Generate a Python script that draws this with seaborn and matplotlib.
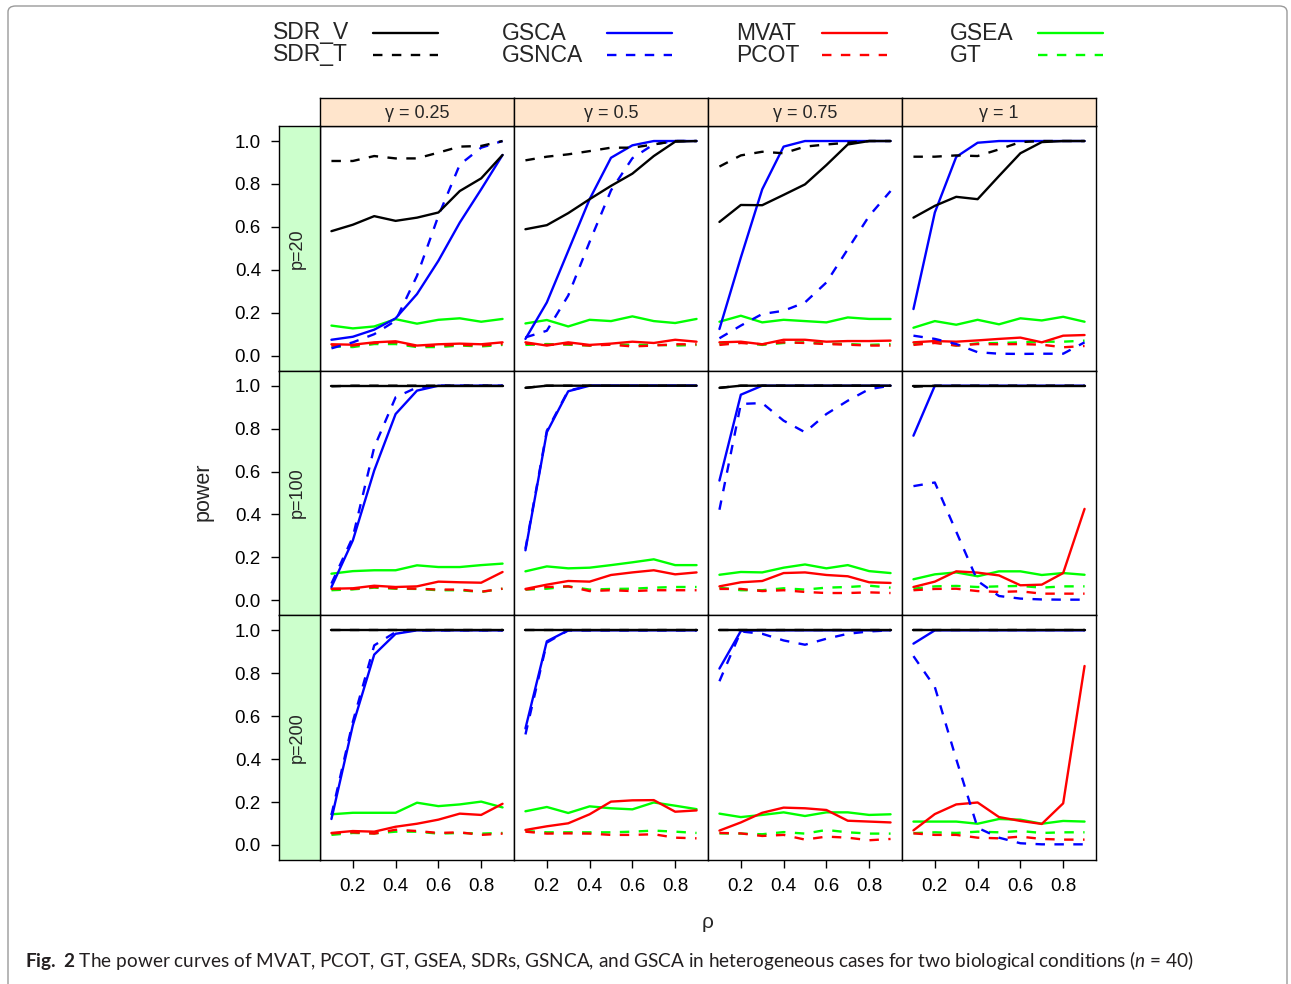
import numpy as np
import pandas as pd
import seaborn as sns
import matplotlib
matplotlib.use("Agg")
import matplotlib.pyplot as plt
from matplotlib.lines import Line2D
from matplotlib.patches import FancyBboxPatch

# ---------------- data ----------------
rho = [0.1, 0.2, 0.3, 0.4, 0.5, 0.6, 0.7, 0.8, 0.9]
gamma_labels = ["γ = 0.25", "γ = 0.5", "γ = 0.75", "γ = 1"]
p_labels = ["p=20", "p=100", "p=200"]
methods = ["SDR_V", "SDR_T", "GSCA", "GSNCA", "MVAT", "PCOT", "GSEA", "GT"]

ONE = [1.0] * 9

p20_g025 = dict(
    SDR_V=[0.58, 0.61, 0.65, 0.628, 0.643, 0.667, 0.767, 0.826, 0.935],
    SDR_T=[0.907, 0.907, 0.930, 0.919, 0.919, 0.946, 0.974, 0.977, 1.0],
    GSCA=[0.074, 0.088, 0.121, 0.174, 0.287, 0.442, 0.62, 0.775, 0.935],
    GSNCA=[0.034, 0.062, 0.10, 0.163, 0.372, 0.651, 0.89, 0.969, 1.0],
    MVAT=[0.053, 0.051, 0.062, 0.067, 0.047, 0.053, 0.056, 0.053, 0.062],
    PCOT=[0.047, 0.047, 0.059, 0.062, 0.043, 0.047, 0.050, 0.047, 0.054],
    GSEA=[0.14, 0.127, 0.136, 0.17, 0.149, 0.167, 0.174, 0.158, 0.171],
    GT=[0.043, 0.040, 0.054, 0.054, 0.040, 0.040, 0.047, 0.043, 0.050],
)
p20_g05 = dict(
    SDR_V=[0.589, 0.608, 0.664, 0.729, 0.791, 0.848, 0.93, 0.997, 1.0],
    SDR_T=[0.91, 0.927, 0.938, 0.953, 0.969, 0.969, 0.984, 1.0, 1.0],
    GSCA=[0.078, 0.248, 0.488, 0.729, 0.922, 0.98, 1.0, 1.0, 1.0],
    GSNCA=[0.085, 0.116, 0.28, 0.53, 0.77, 0.92, 0.985, 1.0, 1.0],
    MVAT=[0.062, 0.047, 0.062, 0.050, 0.056, 0.065, 0.059, 0.074, 0.065],
    PCOT=[0.056, 0.050, 0.054, 0.047, 0.051, 0.043, 0.047, 0.053, 0.053],
    GSEA=[0.15, 0.166, 0.136, 0.167, 0.161, 0.183, 0.161, 0.152, 0.171],
    GT=[0.050, 0.054, 0.051, 0.047, 0.053, 0.050, 0.051, 0.047, 0.050],
)
p20_g075 = dict(
    SDR_V=[0.623, 0.702, 0.701, 0.749, 0.798, 0.888, 0.984, 1.0, 1.0],
    SDR_T=[0.881, 0.933, 0.95, 0.943, 0.974, 0.984, 0.992, 1.0, 1.0],
    GSCA=[0.124, 0.457, 0.775, 0.974, 1.0, 1.0, 1.0, 1.0, 1.0],
    GSNCA=[0.081, 0.14, 0.194, 0.209, 0.248, 0.341, 0.496, 0.651, 0.767],
    MVAT=[0.062, 0.065, 0.053, 0.074, 0.074, 0.065, 0.068, 0.068, 0.070],
    PCOT=[0.050, 0.059, 0.053, 0.062, 0.059, 0.054, 0.051, 0.047, 0.047],
    GSEA=[0.158, 0.186, 0.155, 0.167, 0.161, 0.155, 0.178, 0.171, 0.171],
    GT=[0.054, 0.062, 0.050, 0.059, 0.062, 0.056, 0.054, 0.050, 0.054],
)
p20_g1 = dict(
    SDR_V=[0.643, 0.698, 0.74, 0.729, 0.837, 0.943, 0.995, 1.0, 1.0],
    SDR_T=[0.927, 0.927, 0.933, 0.93, 0.961, 0.995, 1.0, 1.0, 1.0],
    GSCA=[0.217, 0.667, 0.926, 0.992, 1.0, 1.0, 1.0, 1.0, 1.0],
    GSNCA=[0.093, 0.078, 0.054, 0.016, 0.009, 0.008, 0.009, 0.009, 0.062],
    MVAT=[0.062, 0.068, 0.065, 0.071, 0.078, 0.084, 0.062, 0.093, 0.096],
    PCOT=[0.050, 0.059, 0.047, 0.054, 0.053, 0.054, 0.051, 0.039, 0.045],
    GSEA=[0.13, 0.161, 0.144, 0.167, 0.146, 0.174, 0.164, 0.181, 0.158],
    GT=[0.054, 0.062, 0.047, 0.057, 0.059, 0.062, 0.065, 0.065, 0.070],
)
p100_g025 = dict(
    SDR_V=ONE,
    SDR_T=[0.997, 1.0, 1.0, 1.0, 1.0, 1.0, 1.0, 1.0, 1.0],
    GSCA=[0.062, 0.279, 0.605, 0.868, 0.977, 1.0, 1.0, 1.0, 1.0],
    GSNCA=[0.078, 0.295, 0.713, 0.946, 0.992, 1.0, 1.0, 1.0, 1.0],
    MVAT=[0.054, 0.056, 0.068, 0.062, 0.065, 0.087, 0.084, 0.082, 0.132],
    PCOT=[0.053, 0.053, 0.062, 0.056, 0.054, 0.050, 0.050, 0.040, 0.054],
    GSEA=[0.124, 0.136, 0.14, 0.14, 0.163, 0.155, 0.155, 0.164, 0.171],
    GT=[0.047, 0.051, 0.059, 0.054, 0.053, 0.047, 0.047, 0.039, 0.054],
)
p100_g05 = dict(
    SDR_V=[0.99, 1.0, 1.0, 1.0, 1.0, 1.0, 1.0, 1.0, 1.0],
    SDR_T=[0.99, 1.0, 1.0, 1.0, 1.0, 1.0, 1.0, 1.0, 1.0],
    GSCA=[0.233, 0.783, 0.974, 1.0, 1.0, 1.0, 1.0, 1.0, 1.0],
    GSNCA=[0.24, 0.79, 0.977, 1.0, 1.0, 1.0, 1.0, 1.0, 1.0],
    MVAT=[0.053, 0.073, 0.09, 0.087, 0.118, 0.13, 0.14, 0.121, 0.13],
    PCOT=[0.050, 0.062, 0.065, 0.043, 0.047, 0.043, 0.047, 0.047, 0.047],
    GSEA=[0.135, 0.158, 0.149, 0.152, 0.164, 0.177, 0.191, 0.164, 0.164],
    GT=[0.050, 0.054, 0.065, 0.050, 0.053, 0.054, 0.059, 0.062, 0.062],
)
p100_g075 = dict(
    SDR_V=[0.99, 1.0, 1.0, 1.0, 1.0, 1.0, 1.0, 1.0, 1.0],
    SDR_T=[0.99, 1.0, 1.0, 1.0, 1.0, 1.0, 1.0, 1.0, 1.0],
    GSCA=[0.558, 0.958, 1.0, 1.0, 1.0, 1.0, 1.0, 1.0, 1.0],
    GSNCA=[0.422, 0.915, 0.919, 0.837, 0.783, 0.868, 0.93, 0.984, 1.0],
    MVAT=[0.065, 0.084, 0.09, 0.127, 0.13, 0.118, 0.112, 0.084, 0.081],
    PCOT=[0.053, 0.053, 0.043, 0.047, 0.039, 0.034, 0.034, 0.037, 0.034],
    GSEA=[0.119, 0.132, 0.13, 0.152, 0.167, 0.149, 0.164, 0.136, 0.127],
    GT=[0.059, 0.047, 0.047, 0.056, 0.050, 0.059, 0.062, 0.068, 0.059],
)
p100_g1 = dict(
    SDR_V=ONE,
    SDR_T=[0.995, 1.0, 1.0, 1.0, 1.0, 1.0, 1.0, 1.0, 1.0],
    GSCA=[0.767, 1.0, 1.0, 1.0, 1.0, 1.0, 1.0, 1.0, 1.0],
    GSNCA=[0.532, 0.549, 0.32, 0.09, 0.02, 0.008, 0.004, 0.003, 0.003],
    MVAT=[0.062, 0.087, 0.135, 0.129, 0.116, 0.070, 0.073, 0.127, 0.426],
    PCOT=[0.047, 0.053, 0.054, 0.043, 0.039, 0.042, 0.031, 0.031, 0.031],
    GSEA=[0.098, 0.121, 0.13, 0.112, 0.135, 0.135, 0.118, 0.127, 0.119],
    GT=[0.054, 0.065, 0.067, 0.062, 0.065, 0.067, 0.059, 0.065, 0.065],
)
p200_g025 = dict(
    SDR_V=ONE,
    SDR_T=ONE,
    GSCA=[0.121, 0.558, 0.887, 0.984, 1.0, 1.0, 1.0, 1.0, 1.0],
    GSNCA=[0.14, 0.574, 0.93, 0.992, 1.0, 1.0, 1.0, 1.0, 1.0],
    MVAT=[0.056, 0.065, 0.062, 0.085, 0.099, 0.118, 0.146, 0.14, 0.192],
    PCOT=[0.054, 0.059, 0.053, 0.071, 0.065, 0.056, 0.059, 0.047, 0.053],
    GSEA=[0.143, 0.15, 0.15, 0.15, 0.197, 0.181, 0.189, 0.202, 0.175],
    GT=[0.047, 0.056, 0.054, 0.062, 0.062, 0.053, 0.056, 0.053, 0.056],
)
p200_g05 = dict(
    SDR_V=ONE,
    SDR_T=ONE,
    GSCA=[0.543, 0.949, 1.0, 1.0, 1.0, 1.0, 1.0, 1.0, 1.0],
    GSNCA=[0.515, 0.943, 1.0, 1.0, 1.0, 1.0, 1.0, 1.0, 1.0],
    MVAT=[0.07, 0.087, 0.101, 0.143, 0.202, 0.208, 0.209, 0.155, 0.161],
    PCOT=[0.062, 0.053, 0.054, 0.053, 0.047, 0.047, 0.050, 0.034, 0.031],
    GSEA=[0.157, 0.177, 0.149, 0.18, 0.171, 0.166, 0.198, 0.183, 0.167],
    GT=[0.065, 0.059, 0.059, 0.059, 0.059, 0.062, 0.067, 0.062, 0.056],
)
p200_g075 = dict(
    SDR_V=ONE,
    SDR_T=ONE,
    GSCA=[0.822, 0.997, 1.0, 1.0, 1.0, 1.0, 1.0, 1.0, 1.0],
    GSNCA=[0.763, 0.995, 0.984, 0.953, 0.933, 0.961, 0.984, 0.995, 1.0],
    MVAT=[0.067, 0.105, 0.15, 0.174, 0.171, 0.163, 0.113, 0.109, 0.105],
    PCOT=[0.056, 0.054, 0.042, 0.047, 0.025, 0.039, 0.034, 0.022, 0.028],
    GSEA=[0.146, 0.13, 0.14, 0.152, 0.135, 0.152, 0.152, 0.14, 0.143],
    GT=[0.054, 0.053, 0.050, 0.060, 0.053, 0.070, 0.059, 0.053, 0.053],
)
p200_g1 = dict(
    SDR_V=ONE,
    SDR_T=ONE,
    GSCA=[0.938, 1.0, 1.0, 1.0, 1.0, 1.0, 1.0, 1.0, 1.0],
    GSNCA=[0.88, 0.736, 0.40, 0.08, 0.034, 0.008, 0.003, 0.003, 0.003],
    MVAT=[0.068, 0.144, 0.189, 0.198, 0.13, 0.112, 0.098, 0.194, 0.834],
    PCOT=[0.054, 0.047, 0.047, 0.034, 0.031, 0.039, 0.028, 0.025, 0.025],
    GSEA=[0.109, 0.109, 0.109, 0.099, 0.121, 0.118, 0.099, 0.112, 0.109],
    GT=[0.055, 0.059, 0.056, 0.062, 0.059, 0.065, 0.056, 0.059, 0.059],
)

panels = [
    [p20_g025, p20_g05, p20_g075, p20_g1],
    [p100_g025, p100_g05, p100_g075, p100_g1],
    [p200_g025, p200_g05, p200_g075, p200_g1],
]

# ---------------- styles ----------------
palette = {"SDR_V": "black", "SDR_T": "black", "GSCA": "#0000FF", "GSNCA": "#0000FF",
           "MVAT": "#FF0000", "PCOT": "#FF0000", "GSEA": "#00FF00", "GT": "#00FF00"}
dash_map = {"SDR_V": "", "SDR_T": (4, 4), "GSCA": "", "GSNCA": (4, 4),
            "MVAT": "", "PCOT": (4, 4), "GSEA": "", "GT": (4, 4)}
draw_order = ["GT", "GSEA", "PCOT", "MVAT", "GSNCA", "GSCA", "SDR_T", "SDR_V"]

sns.set_theme(style="white")
FONT = ["Liberation Sans", "DejaVu Sans"]
plt.rcParams["font.family"] = FONT
plt.rcParams["mathtext.fontset"] = "custom"
plt.rcParams["mathtext.rm"] = "Lato"
plt.rcParams["mathtext.it"] = "Lato:italic"
plt.rcParams["mathtext.bf"] = "Lato:bold"

W, H = 1291, 984
fig = plt.figure(figsize=(W / 100, H / 100), dpi=100)


def ax_at(x0, y0, w, h, **kw):
    return fig.add_axes([x0 / W, 1 - (y0 + h) / H, w / W, h / H], **kw)


# outer rounded border
fig.add_artist(FancyBboxPatch((8 / W, -0.05), (1279) / W, 1 - 6 / H + 0.05,
                              boxstyle="round,pad=0,rounding_size=0.006",
                              transform=fig.transFigure, fill=False,
                              edgecolor="#9a9a9a", linewidth=1.0))

PX0, PY0 = 320, 126
PW, PH = 194, 734 / 3
XLIM = (0.0465, 0.9535)
YLIM = (-0.07, 1.07)
LW = 1.7
TICKFS = 13.5

for i in range(3):
    for j in range(4):
        x0 = PX0 + j * PW
        y0 = PY0 + i * PH
        ax = ax_at(x0, y0, PW, PH)
        d = panels[i][j]
        df = pd.DataFrame({
            "rho": np.tile(rho, len(draw_order)),
            "power": np.concatenate([d[m] for m in draw_order]),
            "method": np.repeat(draw_order, len(rho)),
        })
        sns.lineplot(data=df, x="rho", y="power", hue="method", style="method",
                     hue_order=draw_order, style_order=draw_order,
                     palette=palette, dashes=dash_map, linewidth=LW,
                     legend=False, ax=ax, sort=False)
        ax.set_xlim(*XLIM)
        ax.set_ylim(*YLIM)
        ax.set_xlabel("")
        ax.set_ylabel("")
        for s in ax.spines.values():
            s.set_color("black")
            s.set_linewidth(1.0)
        ax.set_yticks([])
        if i == 2:
            ax.set_xticks([0.2, 0.4, 0.6, 0.8])
            ax.set_xticklabels(["0.2", "0.4", "0.6", "0.8"])
            ax.tick_params(axis="x", bottom=True, direction="out", length=6,
                           width=1, pad=7, labelsize=TICKFS, colors="black")
        else:
            ax.set_xticks([])

        # top strip (gamma)
        if i == 0:
            sax = ax_at(x0, 98, PW, 28)
            sax.set_facecolor("#FFE5CC")
            sax.set_xticks([]); sax.set_yticks([])
            for s in sax.spines.values():
                s.set_color("black"); s.set_linewidth(1.0)
            sax.text(0.5, 0.45, gamma_labels[j], ha="center", va="center",
                     fontsize=13, transform=sax.transAxes)

    # left strip (p) with y ticks
    y0 = PY0 + i * PH
    lax = ax_at(279, y0, 41, PH)
    lax.set_facecolor("#CCFFCC")
    lax.set_xticks([])
    lax.set_ylim(*YLIM)
    lax.set_yticks([0.0, 0.2, 0.4, 0.6, 0.8, 1.0])
    lax.set_yticklabels(["0.0", "0.2", "0.4", "0.6", "0.8", "1.0"])
    lax.tick_params(axis="y", left=True, direction="out", length=6, width=1,
                    pad=7, labelsize=TICKFS, colors="black")
    for s in lax.spines.values():
        s.set_color("black"); s.set_linewidth(1.0)
    lax.text(0.45, 0.5, p_labels[i], rotation=90, ha="center", va="center",
             fontsize=13, transform=lax.transAxes)

# axis labels
fig.text(203 / W, 1 - 492 / H, "power", rotation=90, ha="center", va="center",
         fontsize=15.5)
fig.text(708 / W, 1 - 922 / H, "ρ", ha="center", va="center", fontsize=15)

# legend (text then line), R lattice-style key
legend_cols = [(273, 373, ["SDR_V", "SDR_T"]),
               (502, 607, ["GSCA", "GSNCA"]),
               (736, 822, ["MVAT", "PCOT"]),
               (950, 1038, ["GSEA", "GT"])]
for tx, lx, names in legend_cols:
    for k, name in enumerate(names):
        yy = 1 - (33 + k * 22) / H
        fig.text(tx / W, yy, name, ha="left", va="center", fontsize=16.5)
        ls = "-" if dash_map[name] == "" else (0, (4, 4))
        fig.add_artist(Line2D([lx / W, (lx + 65) / W], [yy, yy],
                              transform=fig.transFigure, color=palette[name],
                              linewidth=LW, linestyle=ls))

# caption
fig.text(25 / W, 1 - 961 / H,
         r"$\mathbf{Fig.\ 2}$ The power curves of MVAT, PCOT, GT, GSEA, SDRs, GSNCA, and GSCA "
         r"in heterogeneous cases for two biological conditions ($\mathit{n}$ = 40)",
         ha="left", va="center", fontsize=13.7, family="Lato", color="#231f20")

fig.savefig("out.png", dpi=100)
